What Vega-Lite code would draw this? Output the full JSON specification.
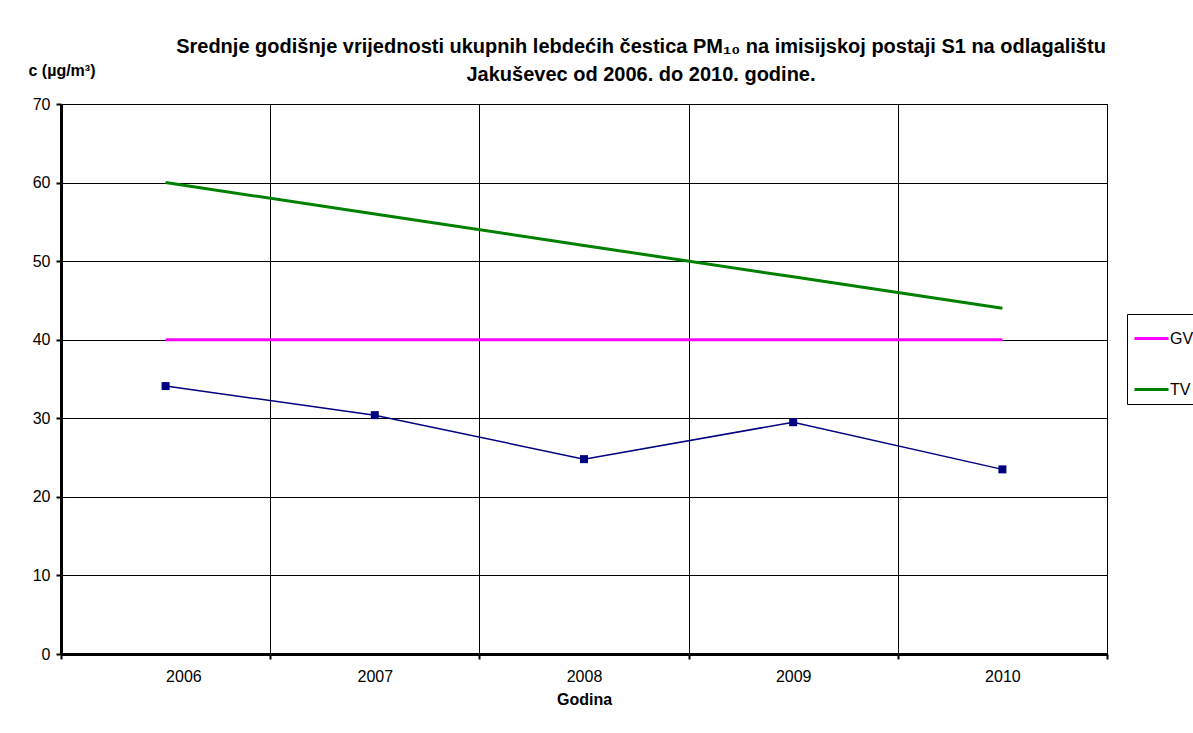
{
  "$schema": "https://vega.github.io/schema/vega-lite/v6.json",
  "width": 1046,
  "height": 550,
  "autosize": {"type": "none"},
  "padding": {"left": 61, "top": 104, "right": 86, "bottom": 79},
  "background": "white",
  "config": {
    "view": {"stroke": "black", "strokeWidth": 1},
    "font": "Liberation Sans"
  },
  "title": {
    "text": ["Srednje godišnje vrijednosti ukupnih lebdećih čestica PM₁₀ na imisijskoj postaji S1 na odlagalištu", "Jakuševec od 2006. do 2010. godine."],
    "font": "Liberation Sans",
    "fontSize": 20,
    "fontWeight": "bold",
    "color": "black",
    "anchor": "middle",
    "dx": 57,
    "dy": 33,
    "lineHeight": 28,
    "offset": 10
  },
  "data": {
    "values": [
      {"year": 2006, "value": 34.1, "series": "PM10"},
      {"year": 2007, "value": 30.4, "series": "PM10"},
      {"year": 2008, "value": 24.8, "series": "PM10"},
      {"year": 2009, "value": 29.5, "series": "PM10"},
      {"year": 2010, "value": 23.5, "series": "PM10"},
      {"year": 2006, "value": 40, "series": "GV"},
      {"year": 2007, "value": 40, "series": "GV"},
      {"year": 2008, "value": 40, "series": "GV"},
      {"year": 2009, "value": 40, "series": "GV"},
      {"year": 2010, "value": 40, "series": "GV"},
      {"year": 2006, "value": 60, "series": "TV"},
      {"year": 2007, "value": 56, "series": "TV"},
      {"year": 2008, "value": 52, "series": "TV"},
      {"year": 2009, "value": 48, "series": "TV"},
      {"year": 2010, "value": 44, "series": "TV"}
    ]
  },
  "encoding": {
    "x": {
      "field": "year",
      "type": "quantitative",
      "scale": {"domain": [2005.5, 2010.5], "nice": false, "zero": false},
      "axis": {
        "values": [2005.5, 2006.5, 2007.5, 2008.5, 2009.5, 2010.5],
        "labelExpr": "datum.value < 2010 ? format(datum.value + 0.5, 'd') : ''",
        "labelOffset": 104.6,
        "labelFont": "Liberation Sans",
        "labelFontSize": 16,
        "labelColor": "black",
        "labelPadding": 9,
        "grid": true,
        "gridColor": "black",
        "gridOpacity": 1,
        "gridWidth": 1,
        "domainColor": "black",
        "domainWidth": 3,
        "tickColor": "black",
        "tickWidth": 2,
        "tickSize": 5,
        "title": "Godina",
        "titleFont": "Liberation Sans",
        "titleFontSize": 16,
        "titleFontWeight": "bold",
        "titleColor": "black",
        "titlePadding": 7
      }
    },
    "y": {
      "field": "value",
      "type": "quantitative",
      "scale": {"domain": [0, 70], "nice": false},
      "axis": {
        "values": [0, 10, 20, 30, 40, 50, 60, 70],
        "labelFont": "Liberation Sans",
        "labelFontSize": 16,
        "labelColor": "black",
        "labelPadding": 6,
        "grid": true,
        "gridColor": "black",
        "gridOpacity": 1,
        "gridWidth": 1,
        "domainColor": "black",
        "domainWidth": 3,
        "tickColor": "black",
        "tickWidth": 2,
        "tickSize": 5,
        "title": "c (µg/m³)",
        "titleFont": "Liberation Sans",
        "titleFontSize": 16,
        "titleFontWeight": "bold",
        "titleColor": "black",
        "titleAngle": 0,
        "titleAlign": "left",
        "titleBaseline": "alphabetic",
        "titleX": -33,
        "titleY": -29
      }
    }
  },
  "layer": [
    {
      "transform": [{"filter": "datum.series !== 'PM10'"}],
      "mark": {"type": "line", "strokeWidth": 3},
      "encoding": {
        "color": {
          "field": "series",
          "type": "nominal",
          "scale": {"domain": ["GV", "TV"], "range": ["#FF00FF", "#008000"]},
          "legend": {
            "orient": "none",
            "legendX": 1066,
            "legendY": 210,
            "title": null,
            "symbolType": "stroke",
            "symbolSize": 1156,
            "symbolStrokeWidth": 3,
            "labelFont": "Liberation Sans",
            "labelFontSize": 16,
            "labelColor": "black",
            "labelOffset": 0,
            "rowPadding": 24,
            "padding": 6,
            "fillColor": "white",
            "strokeColor": "black"
          }
        }
      }
    },
    {
      "transform": [{"filter": "datum.series === 'PM10'"}],
      "mark": {"type": "line", "strokeWidth": 1.5, "color": "#000080"}
    },
    {
      "transform": [{"filter": "datum.series === 'PM10'"}],
      "mark": {"type": "point", "shape": "square", "filled": true, "opacity": 1, "size": 64, "color": "#000080"}
    }
  ]
}
